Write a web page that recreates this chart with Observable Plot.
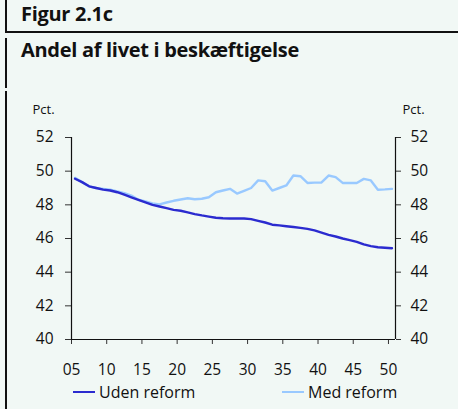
<!DOCTYPE html>
<html>
<head>
<meta charset="utf-8">
<script src="https://cdn.jsdelivr.net/npm/d3@7"></script>
<script src="https://cdn.jsdelivr.net/npm/@observablehq/plot@0.6"></script>
<style>
  html, body { margin: 0; padding: 0; }
  body { width: 458px; height: 409px; background: #f1f8f5; position: relative; overflow: hidden;
         font-family: "Open Sans", "Noto Sans", sans-serif; color: #111; }
  .vl { position: absolute; left: 5px; width: 1.5px; background: #111; }
  .hl { position: absolute; left: 5px; right: 0; top: 31px; height: 1.5px; background: #111; }
  .t1 { position: absolute; left: 21px; top: 0px; font-size: 20px; font-weight: 700; letter-spacing: -0.3px; }
  .t2 { position: absolute; left: 21px; top: 36px; font-size: 20px; font-weight: 700; letter-spacing: -0.3px; }
  #chart { position: absolute; left: 0; top: 90px; }
  .leg { position: absolute; top: 381px; font-size: 16px; display: flex; align-items: center; color: #111; }
  .leg span.sw { display: inline-block; width: 22px; height: 2.5px; margin-right: 4px; }
</style>
</head>
<body>
<div class="vl" style="top:0;height:32px"></div>
<div class="vl" style="top:38px;height:50px"></div>
<div class="vl" style="top:91px;height:318px"></div>
<div class="hl"></div>
<div class="t1">Figur 2.1c</div>
<div class="t2">Andel af livet i beskæftigelse</div>
<div id="chart"></div>
<div id="legend"></div>
<script>
const years = d3.range(2005, 2051);
const udenReform = [
  49.55, 49.35, 49.1, 49.0, 48.9, 48.85, 48.75, 48.6, 48.45, 48.3,
  48.15, 48.0, 47.9, 47.8, 47.7, 47.65, 47.55, 47.45, 47.37, 47.3,
  47.23, 47.2, 47.19, 47.19, 47.19, 47.15, 47.05, 46.95, 46.82, 46.78,
  46.73, 46.68, 46.63, 46.57, 46.48, 46.35, 46.22, 46.12, 46.0, 45.9,
  45.8, 45.65, 45.55, 45.48, 45.45, 45.42
];
const medReform = [
  49.6, 49.35, 49.1, 49.0, 48.95, 48.9, 48.8, 48.7, 48.55, 48.3,
  48.2, 48.08, 48.03, 48.14, 48.24, 48.32, 48.39, 48.33, 48.36, 48.45,
  48.75, 48.85, 48.95, 48.67, 48.83, 49.0, 49.45, 49.4, 48.85, 49.0,
  49.15, 49.74, 49.7, 49.3, 49.32, 49.33, 49.74, 49.65, 49.3, 49.3,
  49.3, 49.54, 49.45, 48.9, 48.92, 48.95
];
const seriesNames = ["Uden reform", "Med reform"];
const seriesColors = ["#2b2bcf", "#99c9ff"];
const xTicks = [2005, 2010, 2015, 2020, 2025, 2030, 2035, 2040, 2045, 2050];
const yTicks = [40, 42, 44, 46, 48, 50, 52];
const yUnit = "Pct.";

const rows = [];
[udenReform, medReform].forEach((vals, s) => {
  vals.forEach((v, i) => rows.push({ series: seriesNames[s], year: years[i], value: v }));
});

const fontFam = '"Open Sans", "Noto Sans", sans-serif';
const chart = Plot.plot({
  width: 458,
  height: 290,
  marginLeft: 71,
  marginRight: 63,
  marginTop: 47,
  marginBottom: 41,
  style: { background: "transparent", fontFamily: fontFam, fontSize: "15.5px", color: "#111", overflow: "visible" },
  x: { domain: [2005, 2051] },
  y: { domain: [40, 52] },
  color: { domain: seriesNames, range: seriesColors },
  marks: [
    Plot.axisX({ ticks: xTicks, tickFormat: d => String(d % 100).padStart(2, "0"), tickSize: 5, tickPadding: 19, label: null, stroke: "#333", fill: "#111", fontSize: 15.5 }),
    Plot.axisY({ anchor: "left", ticks: yTicks, tickSize: 6, tickPadding: 12, label: null, stroke: "#333", fill: "#111", fontSize: 15.5 }),
    Plot.axisY({ anchor: "right", ticks: yTicks, tickSize: 5, tickPadding: 10, label: null, stroke: "#333", fill: "#111", fontSize: 15.5 }),
    Plot.ruleX([2005, 2051], { y1: 40, y2: 52, stroke: "#111", strokeWidth: 1.2 }),
    Plot.ruleY([40], { x1: 2005, x2: 2051, stroke: "#111", strokeWidth: 1.2 }),
    Plot.text([yUnit], { x: 2005, y: 52, dx: -28, dy: -28, text: d => d, fontSize: 13, fill: "#111" }),
    Plot.text([yUnit], { x: 2051, y: 52, dx: 18, dy: -28, text: d => d, fontSize: 13, fill: "#111" }),
    Plot.line(rows.filter(d => d.series === "Med reform"), { x: d => d.year + 0.5, y: "value", stroke: "series", strokeWidth: 2.4 }),
    Plot.line(rows.filter(d => d.series === "Uden reform"), { x: d => d.year + 0.5, y: "value", stroke: "series", strokeWidth: 2.4 })
  ]
});
document.getElementById("chart").appendChild(chart);

const legPos = [73, 282];
const legend = document.getElementById("legend");
seriesNames.forEach((n, i) => {
  const el = document.createElement("div");
  el.className = "leg";
  el.style.left = legPos[i] + "px";
  el.innerHTML = `<span class="sw" style="background:${seriesColors[i]}"></span>${n}`;
  legend.appendChild(el);
});
</script>
</body>
</html>
